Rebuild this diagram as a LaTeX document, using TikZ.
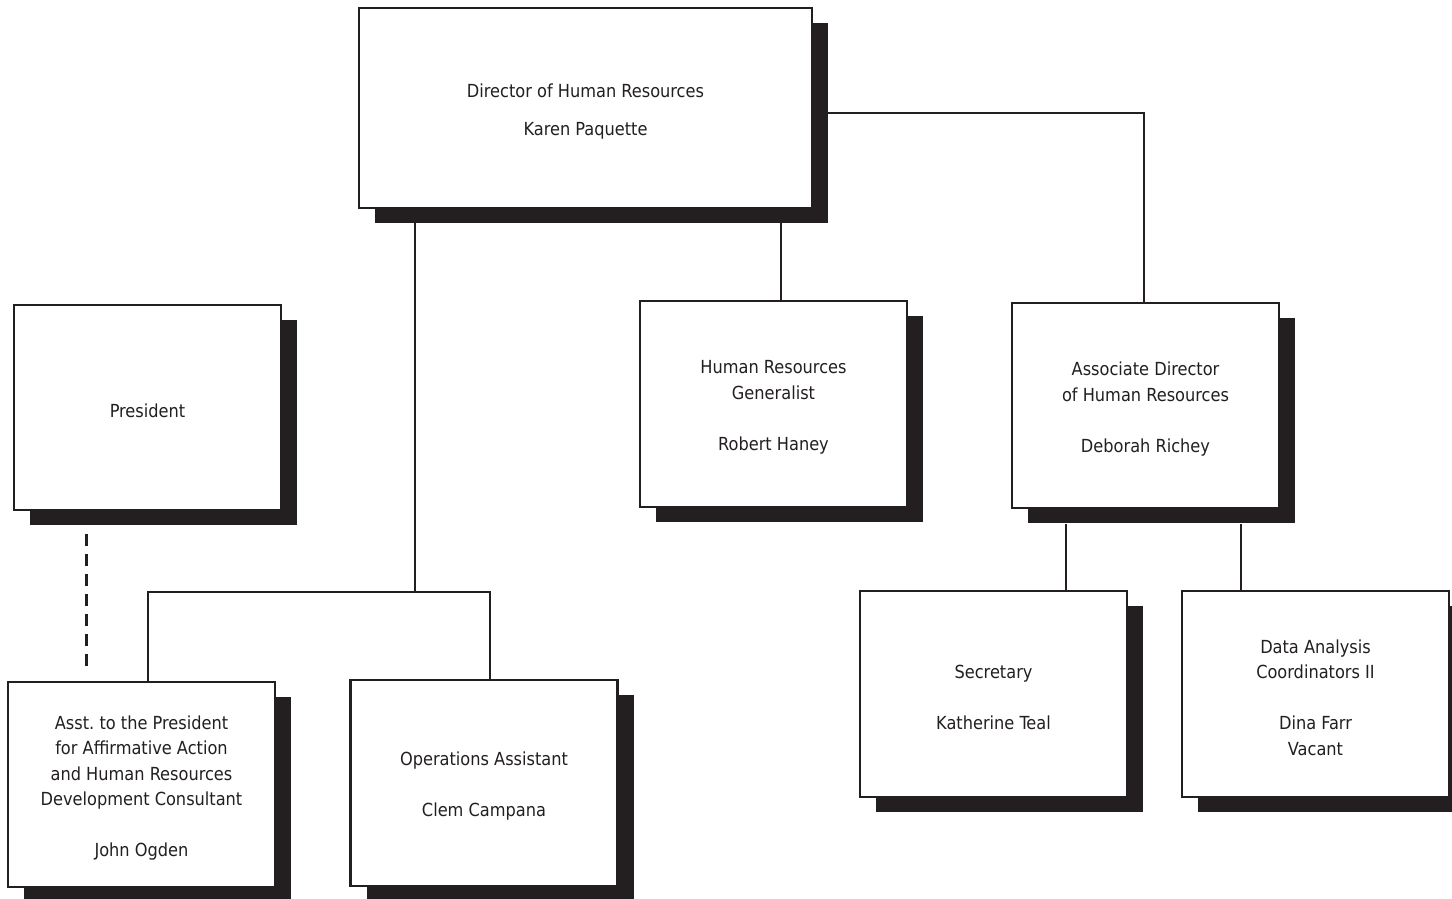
\documentclass[tikz,border=0pt]{standalone}
\usepackage{fontspec}
\setmainfont{DejaVu Sans Condensed}
\usetikzlibrary{shadows}
\definecolor{ink}{HTML}{231F20}
\begin{document}
\begin{tikzpicture}[x=1pt,y=-1pt,
  box/.style={draw=ink, line width=2.2pt, fill=white, inner sep=0pt,
    minimum width=267pt, minimum height=205pt,
    drop shadow={shadow xshift=16pt, shadow yshift=-15pt, opacity=1, fill=ink, draw=none}},
  txt/.style={align=center, inner sep=0pt, text=ink, yshift=-3.5pt,
    font=\fontsize{18}{25.5}\selectfont},
  link/.style={draw=ink, line width=2.2pt},
  dlink/.style={draw=ink, line width=3pt, dash pattern=on 12pt off 8pt}]
\useasboundingbox (0,0) rectangle (1452,898);
\node[box, minimum width=453pt, minimum height=200pt, label={[txt]center:{Director of Human Resources\\[12.5pt]Karen Paquette}}] (dir) at (585.5,108) {};
\node[box, label={[txt]center:{President}}] (pres) at (147.5,407.5) {};
\node[box, label={[txt]center:{Asst.\ to the President\\for Affirmative Action\\and Human Resources\\Development Consultant\\[25.5pt]John Ogden}}] (ogden) at (141.5,784.5) {};
\node[box, minimum height=206pt, label={[txt]center:{Operations Assistant\\[25.5pt]Clem Campana}}] (ops) at (484,783) {};
\node[box, minimum height=206pt, label={[txt]center:{Human Resources\\Generalist\\[25.5pt]Robert Haney}}] (gen) at (773.5,404) {};
\node[box, label={[txt]center:{Associate Director\\of Human Resources\\[25.5pt]Deborah Richey}}] (assoc) at (1145.5,405.5) {};
\node[box, minimum height=206pt, label={[txt]center:{Secretary\\[25.5pt]Katherine Teal}}] (sec) at (993.5,694) {};
\node[box, minimum height=206pt, label={[txt]center:{Data Analysis\\Coordinators II\\[25.5pt]Dina Farr\\Vacant}}] (data) at (1315.5,694) {};
% connectors
\coordinate (j1) at (415,592);
\coordinate (xo) at (148,0);
\coordinate (xp) at (490,0);
\coordinate (xg) at (781,0);
\coordinate (ya) at (0,113);
\coordinate (xa) at (1144,0);
\coordinate (xs) at (1066,0);
\coordinate (xd) at (1241,0);
\draw[link] ([yshift=-14pt]dir.south -| j1) -- (j1);
\draw[link] (ogden.north -| xo) |- (j1) -| (ops.north -| xp);
\draw[link] ([yshift=-14pt]dir.south -| xg) -- (gen.north -| xg);
\draw[link] ([xshift=14pt]dir.east |- ya) -| (assoc.north -| xa);
\draw[link] ([yshift=-15pt]assoc.south -| xs) -- (sec.north -| xs);
\draw[link] ([yshift=-15pt]assoc.south -| xd) -- (data.north -| xd);
\coordinate (xdash) at (86,0);
\draw[dlink] ([yshift=-23pt]pres.south -| xdash) -- ([yshift=10pt]ogden.north -| xdash);
\end{tikzpicture}
\end{document}
